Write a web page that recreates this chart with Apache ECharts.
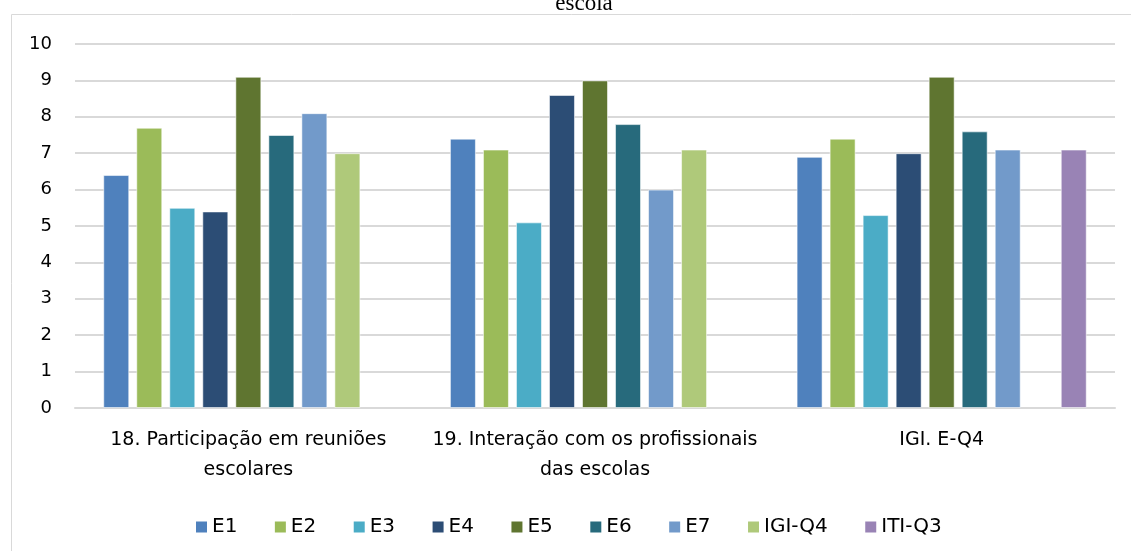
<!DOCTYPE html>
<html>
<head>
<meta charset="utf-8">
<script src="https://cdn.jsdelivr.net/npm/echarts@6/dist/echarts.min.js"></script>
<style>
  html, body { margin: 0; padding: 0; background: #fff; }
  #chart { width: 1131px; height: 551px; }
</style>
</head>
<body>
<div id="chart"></div>
<script>
// Categories along the x axis
const categories = [
  '18. Participação em reuniões\nescolares',
  '19. Interação com os profissionais\ndas escolas',
  'IGI. E-Q4'
];

// Series names (legend order)
const seriesNames = ['E1', 'E2', 'E3', 'E4', 'E5', 'E6', 'E7', 'IGI-Q4', 'ITI-Q3'];

// Values per series, one per category (null = no bar)
const E1 = [6.4, 7.4, 6.9];
const E2 = [7.7, 7.1, 7.4];
const E3 = [5.5, 5.1, 5.3];
const E4 = [5.4, 8.6, 7.0];
const E5 = [9.1, 9.0, 9.1];
const E6 = [7.5, 7.8, 7.6];
const E7 = [8.1, 6.0, 7.1];
const IGI_Q4 = [7.0, 7.1, null];
const ITI_Q3 = [null, null, 7.1];

const seriesValues = [E1, E2, E3, E4, E5, E6, E7, IGI_Q4, ITI_Q3];

// Y axis range
const yMin = 0;
const yMax = 10;
const yStep = 1;

const colors = ['#4f81bd', '#9bbb59', '#4bacc6', '#2c4d75', '#5f7530', '#276a7c', '#729aca', '#afc97a', '#9983b5'];

const FONT = 'DejaVu Sans';

const chart = echarts.init(document.getElementById('chart'), null, { renderer: 'canvas' });

chart.setOption({
  animation: false,
  color: colors,
  title: {
    text: 'escola',
    left: 579,
    textAlign: 'center',
    top: -13,
    textStyle: { fontFamily: 'Liberation Serif', fontSize: 23, fontWeight: 'normal', color: '#000' }
  },
  graphic: [{
    type: 'rect',
    shape: { x: 11.5, y: 14.5, width: 1130, height: 600 },
    style: { fill: 'none', stroke: '#d9d9d9', lineWidth: 1 },
    silent: true,
    z: -1
  }],
  grid: { left: 75, right: 16, top: 44, bottom: 143 },
  legend: {
    data: seriesNames,
    left: 191,
    top: 512,
    icon: 'rect',
    itemWidth: 11,
    itemHeight: 11,
    itemGap: 37.5,
    itemStyle: { borderWidth: 0 },
    textStyle: { fontFamily: FONT, fontSize: 20, color: '#000' }
  },
  xAxis: {
    type: 'category',
    data: categories,
    axisLine: { show: true, lineStyle: { color: '#d9d9d9', width: 2 } },
    axisTick: { show: false },
    axisLabel: {
      interval: 0,
      margin: 17,
      fontFamily: FONT,
      fontSize: 19,
      lineHeight: 30,
      color: '#000'
    }
  },
  yAxis: {
    type: 'value',
    min: yMin,
    max: yMax,
    interval: yStep,
    axisLine: { show: false },
    axisTick: { show: false },
    splitLine: { lineStyle: { color: '#d9d9d9', width: 2 } },
    axisLabel: { margin: 23, fontFamily: FONT, fontSize: 18, color: '#000' }
  },
  series: seriesNames.map((name, i) => ({
    name: name,
    type: 'bar',
    data: seriesValues[i],
    barWidth: 26,
    barGap: '27%',
    itemStyle: { borderColor: 'rgba(255,255,255,0.55)', borderWidth: 1 }
  }))
});
</script>
</body>
</html>
